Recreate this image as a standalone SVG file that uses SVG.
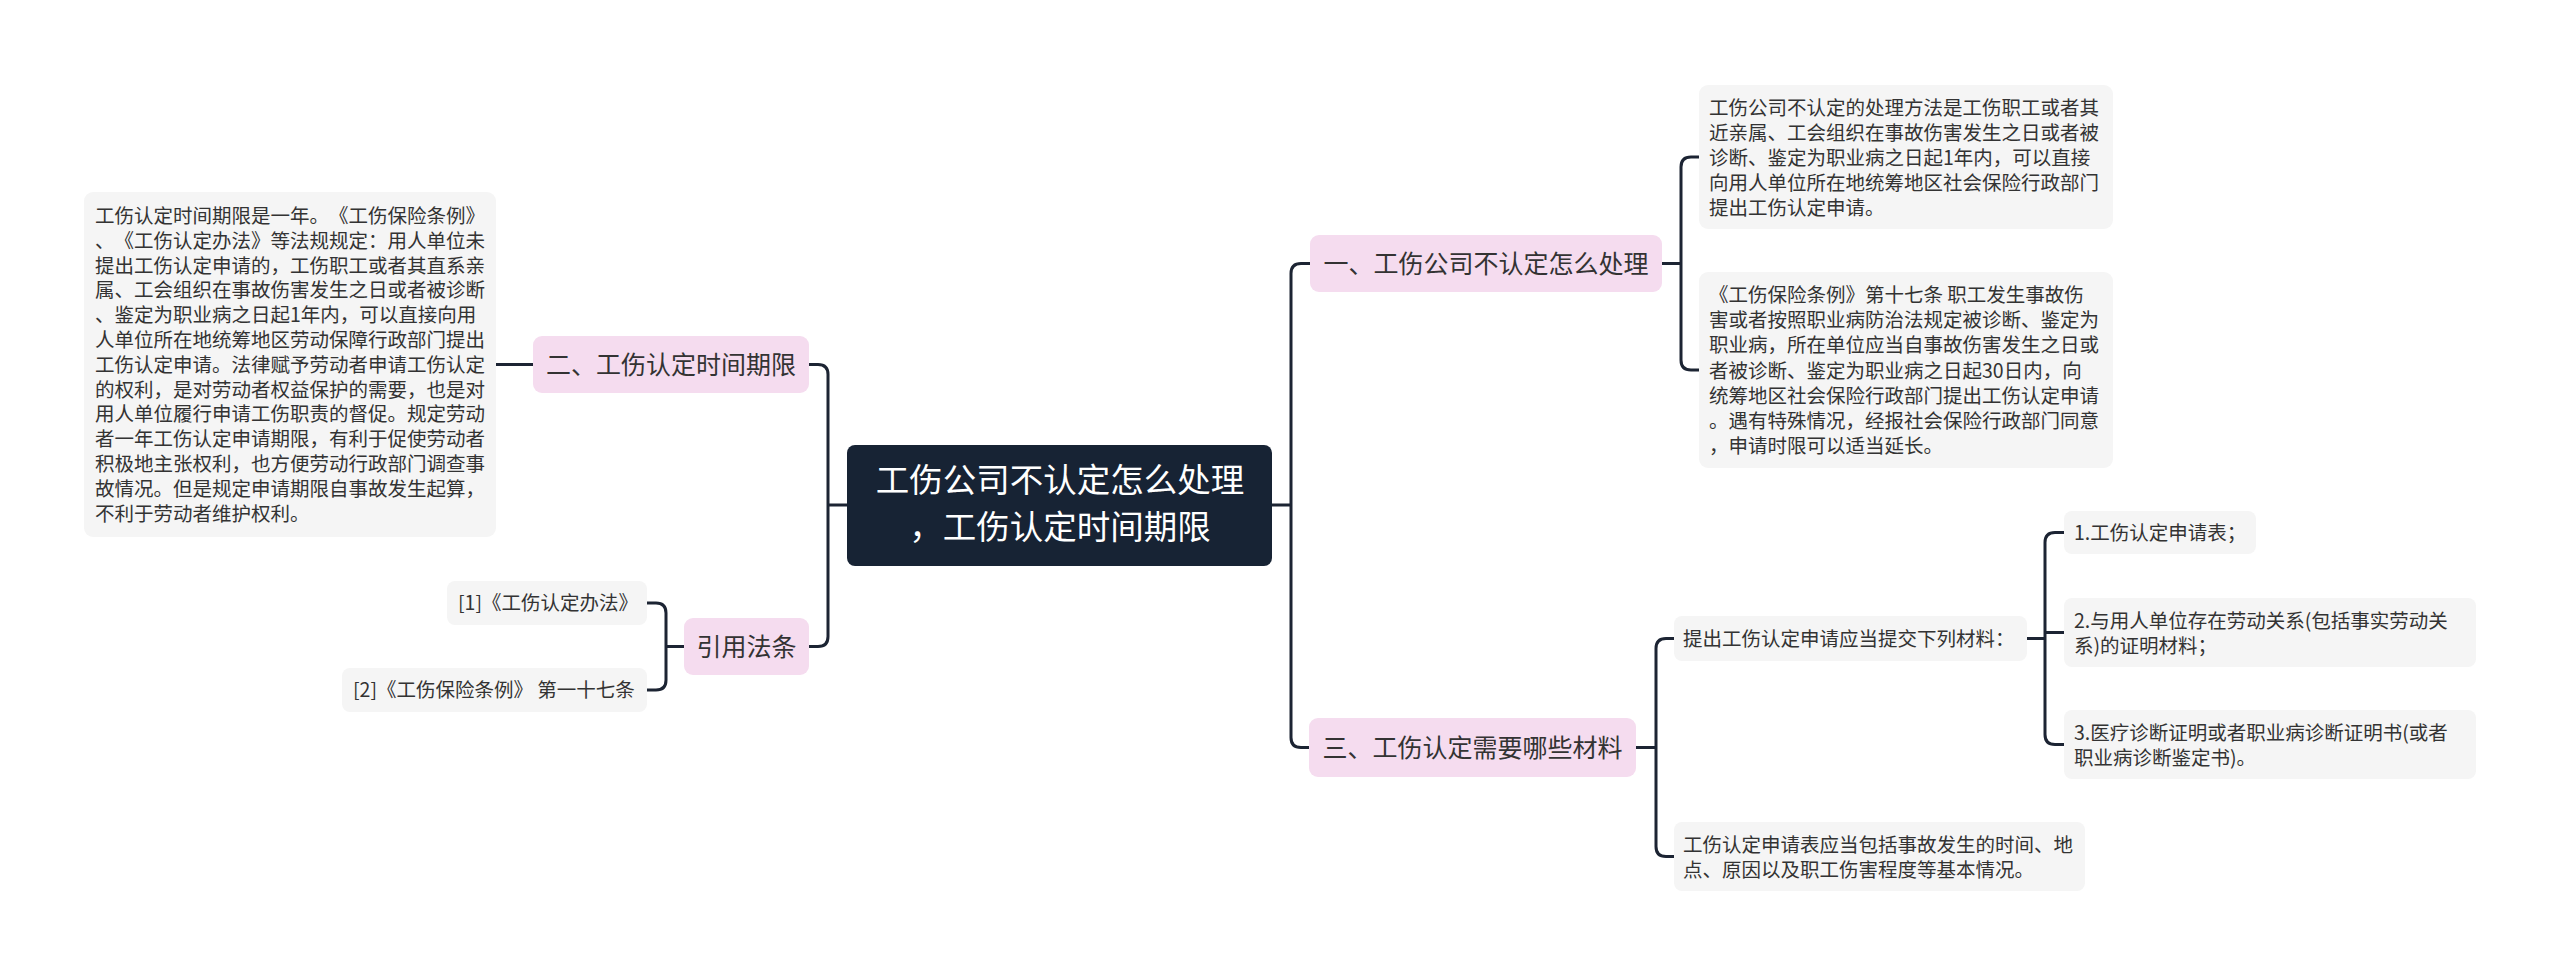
<svg xmlns="http://www.w3.org/2000/svg" width="2560" height="976" viewBox="0 0 2560 976">
<style>
.t{font-family:"Noto Sans CJK SC","Noto Sans",sans-serif;fill:#333333;text-spacing-trim:space-all;}
.s{font-size:19.5px;}
.m{font-size:25px;text-anchor:middle;}
.c{font-size:33.5px;text-anchor:middle;fill:#ffffff;}
.box{fill:#f5f5f5;}
.pink{fill:#f5dcef;}
.root{fill:#172334;}
.ln{fill:none;stroke:#1c2433;stroke-width:3;stroke-linecap:round;}
</style>
<rect width="2560" height="976" fill="#ffffff"/>
<g id="connectors">
<path class="ln" d="M847 505 H828 M809 364.5 H818 Q828 364.5 828 374.5 V636.5 Q828 646.5 818 646.5 H809"/>
<path class="ln" d="M533 364.5 H496"/>
<path class="ln" d="M684 646.5 H666 M647 603 H656 Q666 603 666 613 V680 Q666 690 656 690 H647"/>
<path class="ln" d="M1272 505 H1291 M1310 263.5 H1301 Q1291 263.5 1291 273.5 V737.5 Q1291 747.5 1301 747.5 H1309"/>
<path class="ln" d="M1662 263.5 H1681 M1699 157 H1691 Q1681 157 1681 167 V360 Q1681 370 1691 370 H1699"/>
<path class="ln" d="M1636 747.5 H1656 M1674 638.5 H1666 Q1656 638.5 1656 648.5 V846.5 Q1656 856.5 1666 856.5 H1674"/>
<path class="ln" d="M2027 638.5 H2045 M2064 532.5 H2055 Q2045 532.5 2045 542.5 V734.5 Q2045 744.5 2055 744.5 H2064 M2045 632.5 H2064"/>
</g>
<g id="root">
<rect class="root" x="847" y="445" width="425" height="121" rx="8"/>
<text class="t c" x="1060" y="492">工伤公司不认定怎么处理</text>
<text class="t c" x="1060" y="539">，工伤认定时间期限</text>
</g>
<g id="n2">
<rect class="pink" x="533" y="336" width="276" height="57" rx="9"/>
<text class="t m" x="671" y="374">二、工伤认定时间期限</text>
</g>
<g id="n2a">
<rect class="box" x="84" y="192" width="412" height="345" rx="9"/>
<text class="t s" x="95" y="223">工伤认定时间期限是一年。《工伤保险条例》</text>
<text class="t s" x="95" y="247.8">、《工伤认定办法》等法规规定：用人单位未</text>
<text class="t s" x="95" y="272.6">提出工伤认定申请的，工伤职工或者其直系亲</text>
<text class="t s" x="95" y="297.4">属、工会组织在事故伤害发生之日或者被诊断</text>
<text class="t s" x="95" y="322.2">、鉴定为职业病之日起1年内，可以直接向用</text>
<text class="t s" x="95" y="347">人单位所在地统筹地区劳动保障行政部门提出</text>
<text class="t s" x="95" y="371.8">工伤认定申请。法律赋予劳动者申请工伤认定</text>
<text class="t s" x="95" y="396.6">的权利，是对劳动者权益保护的需要，也是对</text>
<text class="t s" x="95" y="421.4">用人单位履行申请工伤职责的督促。规定劳动</text>
<text class="t s" x="95" y="446.2">者一年工伤认定申请期限，有利于促使劳动者</text>
<text class="t s" x="95" y="471">积极地主张权利，也方便劳动行政部门调查事</text>
<text class="t s" x="95" y="495.8">故情况。但是规定申请期限自事故发生起算，</text>
<text class="t s" x="95" y="520.6">不利于劳动者维护权利。</text>
</g>
<g id="n4">
<rect class="pink" x="684" y="618" width="125" height="57" rx="9"/>
<text class="t m" x="746.5" y="656">引用法条</text>
</g>
<g id="n4a">
<rect class="box" x="447" y="581" width="200" height="44" rx="8"/>
<text class="t s" x="458" y="610">[1]《工伤认定办法》</text>
</g>
<g id="n4b">
<rect class="box" x="342" y="668" width="305" height="44" rx="8"/>
<text class="t s" x="353" y="697">[2]《工伤保险条例》 第一十七条</text>
</g>
<g id="n1">
<rect class="pink" x="1310" y="235" width="352" height="57" rx="9"/>
<text class="t m" x="1486" y="273">一、工伤公司不认定怎么处理</text>
</g>
<g id="n1a">
<rect class="box" x="1699" y="85" width="414" height="144" rx="9"/>
<text class="t s" x="1709" y="115">工伤公司不认定的处理方法是工伤职工或者其</text>
<text class="t s" x="1709" y="140">近亲属、工会组织在事故伤害发生之日或者被</text>
<text class="t s" x="1709" y="165">诊断、鉴定为职业病之日起1年内，可以直接</text>
<text class="t s" x="1709" y="190">向用人单位所在地统筹地区社会保险行政部门</text>
<text class="t s" x="1709" y="215">提出工伤认定申请。</text>
</g>
<g id="n1b">
<rect class="box" x="1699" y="272" width="414" height="196" rx="9"/>
<text class="t s" x="1709" y="302">《工伤保险条例》第十七条 职工发生事故伤</text>
<text class="t s" x="1709" y="327.2">害或者按照职业病防治法规定被诊断、鉴定为</text>
<text class="t s" x="1709" y="352.4">职业病，所在单位应当自事故伤害发生之日或</text>
<text class="t s" x="1709" y="377.6">者被诊断、鉴定为职业病之日起30日内，向</text>
<text class="t s" x="1709" y="402.8">统筹地区社会保险行政部门提出工伤认定申请</text>
<text class="t s" x="1709" y="428">。遇有特殊情况，经报社会保险行政部门同意</text>
<text class="t s" x="1709" y="453.2">，申请时限可以适当延长。</text>
</g>
<g id="n3">
<rect class="pink" x="1309" y="718" width="327" height="59" rx="9"/>
<text class="t m" x="1472.5" y="757">三、工伤认定需要哪些材料</text>
</g>
<g id="n3a">
<rect class="box" x="1674" y="616" width="353" height="45" rx="8"/>
<text class="t s" x="1683" y="646">提出工伤认定申请应当提交下列材料：</text>
</g>
<g id="n3a1">
<rect class="box" x="2064" y="511" width="192" height="43" rx="8"/>
<text class="t s" x="2074" y="540">1.工伤认定申请表；</text>
</g>
<g id="n3a2">
<rect class="box" x="2064" y="598" width="412" height="69" rx="8"/>
<text class="t s" x="2074" y="627.5">2.与用人单位存在劳动关系(包括事实劳动关</text>
<text class="t s" x="2074" y="652.5">系)的证明材料；</text>
</g>
<g id="n3a3">
<rect class="box" x="2064" y="710" width="412" height="69" rx="8"/>
<text class="t s" x="2074" y="739.5">3.医疗诊断证明或者职业病诊断证明书(或者</text>
<text class="t s" x="2074" y="764.5">职业病诊断鉴定书)。</text>
</g>
<g id="n3b">
<rect class="box" x="1674" y="822" width="411" height="69" rx="8"/>
<text class="t s" x="1683" y="851.5">工伤认定申请表应当包括事故发生的时间、地</text>
<text class="t s" x="1683" y="876.5">点、原因以及职工伤害程度等基本情况。</text>
</g>
</svg>
